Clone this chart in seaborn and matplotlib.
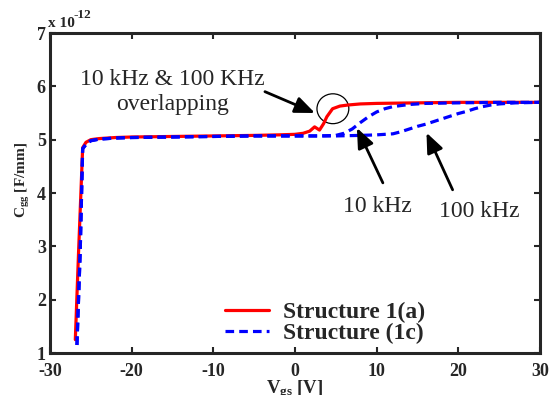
import numpy as np
import pandas as pd
import matplotlib
matplotlib.use("Agg")
import matplotlib.pyplot as plt
from matplotlib.patches import Ellipse
import seaborn as sns

# Gate capacitance (units of 1e-12 F/mm) versus gate voltage
v_1a = [-26.9, -26.5, -26.0, -25.6, -25.0, -24.0, -22.0, -20.0, -15.0, -10.0, -5.0,
        -2.0, 0.0, 1.0, 1.8, 2.4, 3.0, 3.5, 3.9, 4.6, 5.5, 6.5, 8.0, 10.0, 15.0, 20.0,
        25.0, 30.0]
c_1a = [1.25, 2.90, 4.85, 4.95, 5.00, 5.02, 5.04, 5.05, 5.06, 5.07, 5.08,
        5.09, 5.10, 5.12, 5.16, 5.24, 5.18, 5.30, 5.43, 5.58, 5.63, 5.65, 5.67, 5.68,
        5.69, 5.70, 5.70, 5.70]

v_1c_10k = [-26.7, -26.3, -26.0, -25.5, -25.0, -24.0, -22.0, -20.0, -15.0, -10.0,
            -5.0, 0.0, 3.0, 5.0, 6.0, 7.0, 8.0, 9.0, 10.0, 11.0, 12.0, 14.0, 16.0,
            20.0, 25.0, 30.0]
c_1c_10k = [1.15, 2.90, 4.83, 4.93, 4.98, 5.01, 5.03, 5.04, 5.05, 5.06,
            5.07, 5.07, 5.07, 5.08, 5.12, 5.20, 5.32, 5.43, 5.52, 5.58, 5.62, 5.66,
            5.68, 5.69, 5.70, 5.70]

v_1c_100k = [-26.7, -26.3, -26.0, -25.5, -25.0, -24.0, -22.0, -20.0, -15.0, -10.0,
             -5.0, 0.0, 5.0, 8.0, 10.0, 12.0, 13.0, 14.0, 15.0, 16.0, 17.0, 18.0,
             19.0, 20.0, 21.0, 22.0, 23.0, 24.0, 25.0, 27.0, 30.0]
c_1c_100k = [1.15, 2.90, 4.83, 4.93, 4.98, 5.01, 5.03, 5.04, 5.05, 5.06,
             5.07, 5.07, 5.07, 5.08, 5.09, 5.11, 5.15, 5.20, 5.25, 5.29, 5.34, 5.39,
             5.44, 5.49, 5.53, 5.58, 5.62, 5.65, 5.67, 5.69, 5.70]

x_ticks = [-30, -20, -10, 0, 10, 20, 30]
y_ticks = [1, 2, 3, 4, 5, 6, 7]

sns.set_style("ticks")
plt.rcParams["font.family"] = ["Liberation Serif", "DejaVu Serif"]
plt.rcParams["mathtext.fontset"] = "custom"
plt.rcParams["mathtext.rm"] = "Liberation Serif"
plt.rcParams["mathtext.it"] = "Liberation Serif:italic"
plt.rcParams["mathtext.bf"] = "Liberation Serif:bold"

df_1a = pd.DataFrame({"V": v_1a, "C": c_1a})
df_10k = pd.DataFrame({"V": v_1c_10k, "C": c_1c_10k})
df_100k = pd.DataFrame({"V": v_1c_100k, "C": c_1c_100k})

W, H = 553, 395
fig = plt.figure(figsize=(W / 100, H / 100), dpi=100)
ax = fig.add_axes([50 / W, 1 - 353 / H, 490 / W, 320 / H])

dash = (0, (2.7, 1.6))
sns.lineplot(data=df_1a, x="V", y="C", ax=ax, color="#ff0000", lw=2.3,
             label="Structure 1(a)", sort=False, estimator=None)
sns.lineplot(data=df_10k, x="V", y="C", ax=ax, color="#0000ff", lw=2.3,
             linestyle=dash, label="Structure (1c)", sort=False, estimator=None)
sns.lineplot(data=df_100k, x="V", y="C", ax=ax, color="#0000ff", lw=2.3,
             linestyle=dash, sort=False, estimator=None)

ax.set_xlim(-30, 30)
ax.set_ylim(1, 7)
ax.set_xticks(x_ticks)
ax.set_yticks(y_ticks)
ax.set_xticklabels([str(t) for t in x_ticks])
ax.set_yticklabels([str(t) for t in y_ticks])
ax.tick_params(direction="in", length=4, width=1.5, top=True, right=True,
               labelsize=13)
ax.tick_params(axis="x", pad=7)
ax.tick_params(axis="y", pad=3)
for lbl in ax.get_xticklabels() + ax.get_yticklabels():
    lbl.set_fontweight("bold")
for sp in ax.spines.values():
    sp.set_linewidth(2.2)
    sp.set_visible(True)

ax.set_xlabel(r"$\mathbf{V_{gs}}$ [V]", fontsize=13.5, fontweight="bold", labelpad=-1.5)
ax.set_ylabel(r"$\mathbf{C_{gg}}$ [F/mm]", fontsize=11, fontweight="bold")
ax.yaxis.set_label_coords(-0.036, 0.54)

# exponent of the y values
fig.text(48 / W, 1 - 27 / H, "x 10", fontsize=11, fontweight="bold",
         ha="left", va="baseline")
fig.text(73 / W, 1 - 18 / H, "-12", fontsize=9.5, fontweight="bold",
         ha="left", va="baseline")

leg = ax.legend(loc="center left", bbox_to_anchor=(175 / 490, 30 / 320),
                frameon=False,
                prop={"family": "Liberation Serif", "weight": "bold", "size": 17},
                handlelength=1.85, handletextpad=0.6, labelspacing=0.0,
                borderaxespad=0, borderpad=0)

# circle around the overlapping region of Structure 1(a)
ax.add_patch(Ellipse((4.64, 5.58), 3.9, 0.56, fill=False, ec="black", lw=0.9))

arrow = dict(arrowstyle="-|>,head_length=1.2,head_width=0.5", color="black",
             lw=2, shrinkA=0, shrinkB=0)
ax.text(-15.0, 6.03, "10 kHz & 100 KHz", fontsize=17, ha="center", va="baseline")
ax.text(-15.0, 5.56, "overlapping", fontsize=17, ha="center", va="baseline")
ax.annotate("", xy=(2.44, 5.50), xytext=(-3.68, 5.90), arrowprops=arrow)
ax.annotate("", xy=(7.58, 5.22), xytext=(10.76, 4.19), arrowprops=arrow)
ax.annotate("", xy=(16.1, 5.13), xytext=(19.3, 4.06), arrowprops=arrow)
ax.text(10.08, 3.645, "10 kHz", fontsize=17, ha="center", va="baseline")
ax.text(22.57, 3.55, "100 kHz", fontsize=17, ha="center", va="baseline")

fig.savefig("out.png", dpi=100)
